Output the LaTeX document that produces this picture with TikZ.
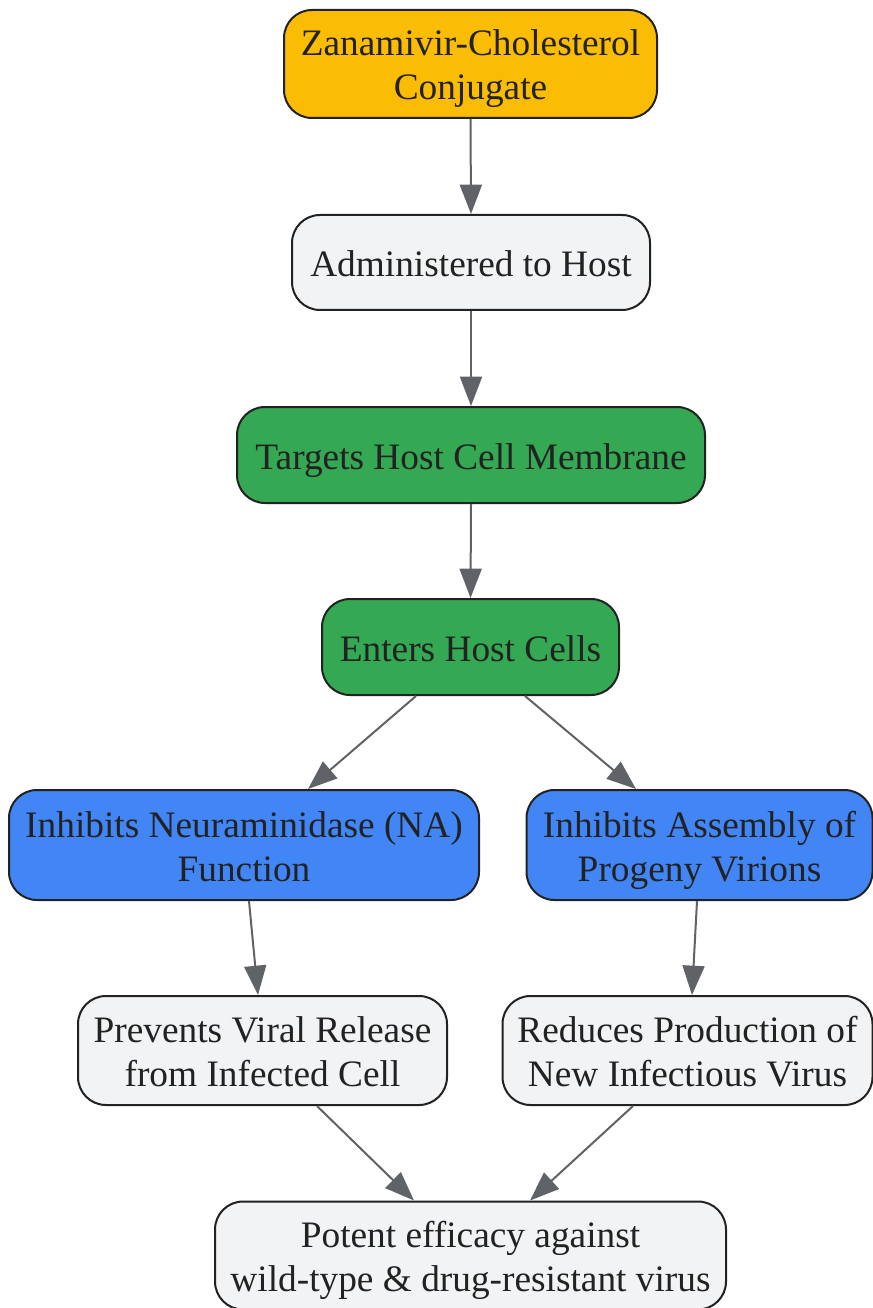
\documentclass[tikz,border=0pt]{standalone}
\usepackage{fontspec}
\setmainfont{Liberation Serif}
\usetikzlibrary{arrows.meta,positioning,calc}
\definecolor{gold}{HTML}{FBBC04}
\definecolor{paper}{HTML}{F1F3F4}
\definecolor{leaf}{HTML}{34A853}
\definecolor{sky}{HTML}{4285F4}
\definecolor{wire}{HTML}{5F6368}
\definecolor{ink}{HTML}{222222}

\tikzset{
    box/.style={draw=ink, line width=1.5pt, rounded corners=21pt, align=center,
        text=ink, inner sep=0pt, font=\fontsize{28}{33}\selectfont},
    oneline/.style={box, text height=24pt, text depth=2.25pt},
    twoline/.style={box, text height=57pt, text depth=3pt},
    flow/.style={draw=wire, line width=1.5pt, -{Triangle[length=22pt, width=16.5pt]}}
}

\begin{document}
\begin{tikzpicture}[x=0.75pt, y=-0.75pt]
    \useasboundingbox (0,0) rectangle (873,1308);

    % ---------------- Main chain ----------------
    \node[twoline, fill=gold, minimum width=279.75pt, minimum height=81pt] (zan) at (470.5,64)
        {Zanamivir-Cholesterol\\Conjugate};
    \node[oneline, fill=paper, minimum width=268.5pt, minimum height=71.25pt] (adm) at (471,262.5)
        {Administered to Host};
    \node[oneline, fill=leaf, minimum width=351pt, minimum height=72pt] (tgt) at (471,455)
        {Targets Host Cell Membrane};
    \node[oneline, fill=leaf, minimum width=222.75pt, minimum height=72pt] (ent) at (470.5,647)
        {Enters Host Cells};

    % ---------------- Two branches ----------------
    \node[twoline, fill=sky, minimum width=352.5pt, minimum height=82.5pt] (na) at (244,845)
        {Inhibits Neuraminidase (NA)\\Function};
    \node[twoline, fill=sky, minimum width=259.5pt, minimum height=82.5pt] (asm) at (699.5,845)
        {Inhibits Assembly of\\Progeny Virions};
    \node[twoline, fill=paper, minimum width=276.75pt, minimum height=81.75pt] (prev) at (262.5,1050.5)
        {Prevents Viral Release\\from Infected Cell};
    \node[twoline, fill=paper, minimum width=277.5pt, minimum height=81.75pt] (red) at (687.5,1050.5)
        {Reduces Production of\\New Infectious Virus};

    % ---------------- Outcome ----------------
    \node[twoline, fill=paper, minimum width=383.25pt, minimum height=81pt] (pot) at (470.5,1255.5)
        {Potent efficacy against\\wild-type \& drug-resistant virus};

    % ---------------- Arrows ----------------
    \draw[flow] (zan.south) -- (adm.north);
    \draw[flow] (adm.south) -- (tgt.north);
    \draw[flow] (tgt.south) -- (ent.north);
    \draw[flow] ($(ent.south)+(-54.5,0)$) -- ($(na.north)+(64,0)$);
    \draw[flow] ($(ent.south)+(54.5,0)$) -- ($(asm.north)+(-63.5,0)$);
    \draw[flow] ($(na.south)+(5,0)$) -- ($(prev.north)+(-4.5,0)$);
    \draw[flow] ($(asm.south)+(-2.5,0)$) -- ($(red.north)+(4.5,0)$);
    \draw[flow] ($(prev.south)+(54.5,0)$) -- ($(pot.north)+(-56.5,0)$);
    \draw[flow] ($(red.south)+(-54.5,0)$) -- ($(pot.north)+(59.5,0)$);

\end{tikzpicture}
\end{document}
